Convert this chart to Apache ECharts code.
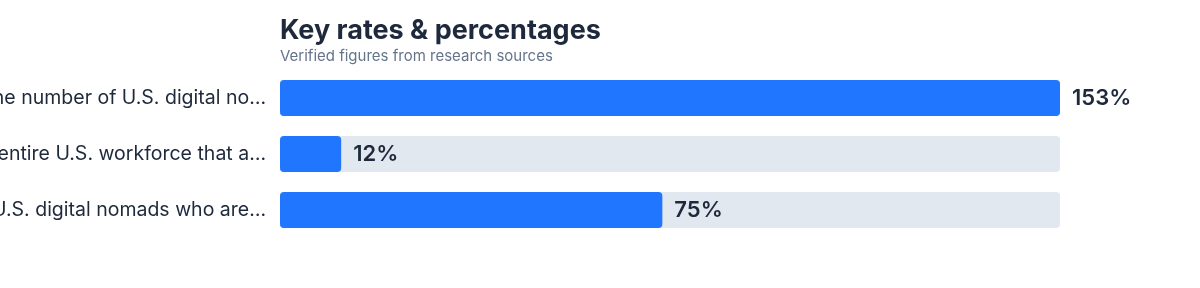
<!DOCTYPE html>
<html>
<head>
<meta charset="utf-8">
<script src="https://cdn.jsdelivr.net/npm/echarts@6/dist/echarts.min.js"></script>
<style>
  html, body { margin: 0; padding: 0; background: #fff; }
  #chart { width: 1200px; height: 288px; }
</style>
</head>
<body>
<div id="chart"></div>
<script>
  // full labels, cut to a fixed number of characters on the axis
  var categories = [
    'Increase in the number of U.S. digital nomads since 2019',
    'Share of the entire U.S. workforce that are digital nomads',
    'Percentage of U.S. digital nomads who are traditional workers'
  ];
  var values = [153, 12, 75];
  var axisMax = 153;
  var maxChars = 41;

  function shortLabel(s) {
    if (s.length <= maxChars) return s;
    return s.slice(0, maxChars).trim() + '…';
  }

  var chart = echarts.init(document.getElementById('chart'));
  chart.setOption({
    animation: false,
    title: {
      text: 'Key rates & percentages',
      subtext: 'Verified figures from research sources',
      left: 275,
      top: 12,
      itemGap: 5,
      textStyle: {
        fontFamily: 'Inter',
        fontSize: 27,
        fontWeight: 'bold',
        color: '#1e293b'
      },
      subtextStyle: {
        fontFamily: 'Inter',
        fontSize: 15,
        color: '#64748b'
      }
    },
    grid: {
      left: 280,
      right: 140,
      top: 70,
      bottom: 50,
      containLabel: false,
      outerBoundsMode: 'none'
    },
    xAxis: {
      type: 'value',
      min: 0,
      max: axisMax,
      show: false
    },
    yAxis: {
      type: 'category',
      inverse: true,
      data: categories,
      axisLine: { show: false },
      axisTick: { show: false },
      axisLabel: {
        margin: 14,
        fontFamily: 'Inter',
        fontSize: 19.5,
        color: '#1e293b',
        formatter: shortLabel
      }
    },
    series: [{
      type: 'bar',
      data: values,
      barWidth: 36,
      showBackground: true,
      backgroundStyle: {
        color: '#e2e8f0',
        borderRadius: 4
      },
      itemStyle: {
        color: '#2176ff',
        borderRadius: 4
      },
      label: {
        show: true,
        position: 'right',
        distance: 12,
        formatter: '{c}%',
        fontFamily: 'Inter',
        fontSize: 22,
        fontWeight: 600,
        color: '#1e293b'
      }
    }]
  });
</script>
</body>
</html>
